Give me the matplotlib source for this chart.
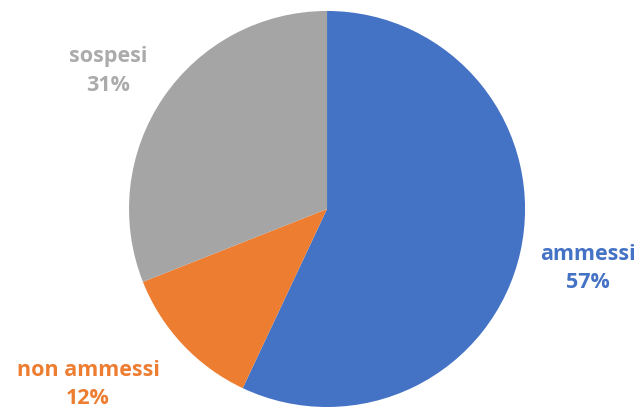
import matplotlib.pyplot as plt

labels = ['ammessi', 'non ammessi', 'sospesi']
shares = [57, 12, 31]
colors = ['#4472C4', '#ED7D31', '#A5A5A5']
text_colors = ['#4472C4', '#ED7D31', '#ABABAB']
# label block centres in figure fractions
label_pos = [(0.919, 0.345), (0.1375, 0.063), (0.169, 0.827)]

fig = plt.figure(figsize=(6.4, 4.1), dpi=100)
ax = fig.add_axes([0.2016, 0.0049, 0.6188, 0.9659])

ax.pie(shares, colors=colors, startangle=90, counterclock=False,
       wedgeprops={'linewidth': 0})
ax.set_xlim(-1, 1)
ax.set_ylim(-1, 1)
ax.set_aspect('auto')
ax.axis('off')

for label, share, color, (x, y) in zip(labels, shares, text_colors, label_pos):
    fig.text(x, y, f'{label}\n{share}%', color=color, ha='center', va='center',
             fontsize=15.5, fontweight='bold', family='Open Sans',
             linespacing=1.45)

fig.savefig('out.png', dpi=100)
